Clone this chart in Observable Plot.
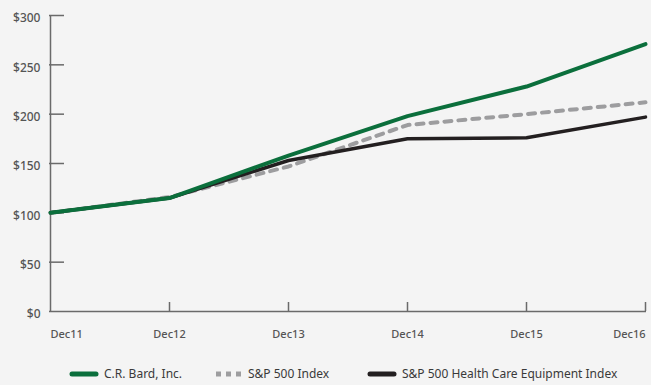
<!DOCTYPE html>
<html><head><meta charset="utf-8">
<script src="https://cdn.jsdelivr.net/npm/d3@7"></script>
<script src="https://cdn.jsdelivr.net/npm/@observablehq/plot@0.6"></script>
<style>
html,body{margin:0;padding:0;background:#f4f4f4;}
body{width:651px;height:385px;overflow:hidden;position:relative;font-family:"Noto Sans",sans-serif;}
#legend{position:absolute;left:0;top:366px;height:18px;width:651px;font-size:12px;line-height:16px;color:#3a3a3a;}
.item{position:absolute;top:0;display:flex;align-items:center;white-space:nowrap;}
.item svg{margin-right:5px;}
</style></head>
<body>
<div id="chart"></div>
<div id="legend"></div>
<script>
const years = ["Dec11","Dec12","Dec13","Dec14","Dec15","Dec16"];
const bard = [100, 115, 158, 198, 228, 271];
const sp500 = [100, 116, 147, 189, 200, 212];
const hce = [100, 115, 153, 175, 176, 197];
const yTicks = [0, 50, 100, 150, 200, 250, 300];
const seriesNames = ["C.R. Bard, Inc.", "S&P 500 Index", "S&P 500 Health Care Equipment Index"];

const toRows = (vals, name) => vals.map((v, i) => ({year: years[i], value: v, series: name}));
const rBard = toRows(bard, seriesNames[0]);
const rSp = toRows(sp500, seriesNames[1]);
const rHce = toRows(hce, seriesNames[2]);

const W = 651, H = 350, mL = 49, mR = 5, mT = 15, mB = 39;
const axisColor = "#6a6a6a";
const textColor = "#555";
const first = years[0], last = years[years.length - 1];

const chart = Plot.plot({
  width: W, height: H,
  marginLeft: mL, marginRight: mR, marginTop: mT, marginBottom: mB,
  style: {background: "#f4f4f4", fontFamily: "'Noto Sans', sans-serif"},
  x: {type: "point", domain: years, padding: 0, axis: null},
  y: {domain: [0, 300], axis: null},
  marks: [
    Plot.ruleY(yTicks.filter(d => d > 0), {y: d => d, stroke: axisColor, strokeWidth: 1.5, insetRight: W - mL - mR - 15}),
    Plot.ruleX([first], {x: d => d, stroke: axisColor, strokeWidth: 1.5}),
    Plot.ruleY([0], {stroke: axisColor, strokeWidth: 1.5}),
    Plot.ruleX(years.slice(1), {x: d => d, insetTop: (H - mT - mB) - 9, stroke: axisColor, strokeWidth: 1.5}),
    Plot.text(yTicks, {x: () => first, y: d => d, text: d => "$" + d, textAnchor: "end", dx: -10, dy: 3, fill: textColor, fontSize: 12, fontWeight: 500}),
    Plot.text([first], {x: d => d, y: () => 0, text: d => d, textAnchor: "start", dy: 23, fill: textColor, fontSize: 11, fontWeight: 500}),
    Plot.text(years.slice(1, -1), {x: d => d, y: () => 0, text: d => d, textAnchor: "middle", dy: 23, fill: textColor, fontSize: 11, fontWeight: 500}),
    Plot.text([last], {x: d => d, y: () => 0, text: d => d, textAnchor: "end", dy: 23, fill: textColor, fontSize: 11, fontWeight: 500}),
    Plot.line(rSp, {x: "year", y: "value", stroke: "#9d9d9f", strokeWidth: 4, strokeDasharray: "7,7", strokeLinecap: "round"}),
    Plot.line(rHce, {x: "year", y: "value", stroke: "#231f20", strokeWidth: 3.5, strokeLinecap: "round"}),
    Plot.line(rBard, {x: "year", y: "value", stroke: "#0b6f3c", strokeWidth: 4, strokeLinecap: "round"})
  ]
});
document.getElementById("chart").appendChild(chart);

const legend = document.getElementById("legend");
const items = [
  {name: seriesNames[0], left: 69, sw: `<svg width="30" height="8"><line x1="3" y1="4" x2="27" y2="4" stroke="#0b6f3c" stroke-width="5" stroke-linecap="round"/></svg>`},
  {name: seriesNames[1], left: 216, sw: `<svg width="27" height="8"><line x1="0" y1="4" x2="25" y2="4" stroke="#9d9d9f" stroke-width="5" stroke-dasharray="5,5"/></svg>`},
  {name: seriesNames[2], left: 367, sw: `<svg width="30" height="8"><line x1="3" y1="4" x2="27" y2="4" stroke="#231f20" stroke-width="5" stroke-linecap="round"/></svg>`}
];
items.forEach(it => {
  const d = document.createElement("div");
  d.className = "item";
  d.style.left = it.left + "px";
  d.innerHTML = it.sw + "<span></span>";
  d.querySelector("span").textContent = it.name;
  legend.appendChild(d);
});
</script>
</body></html>
